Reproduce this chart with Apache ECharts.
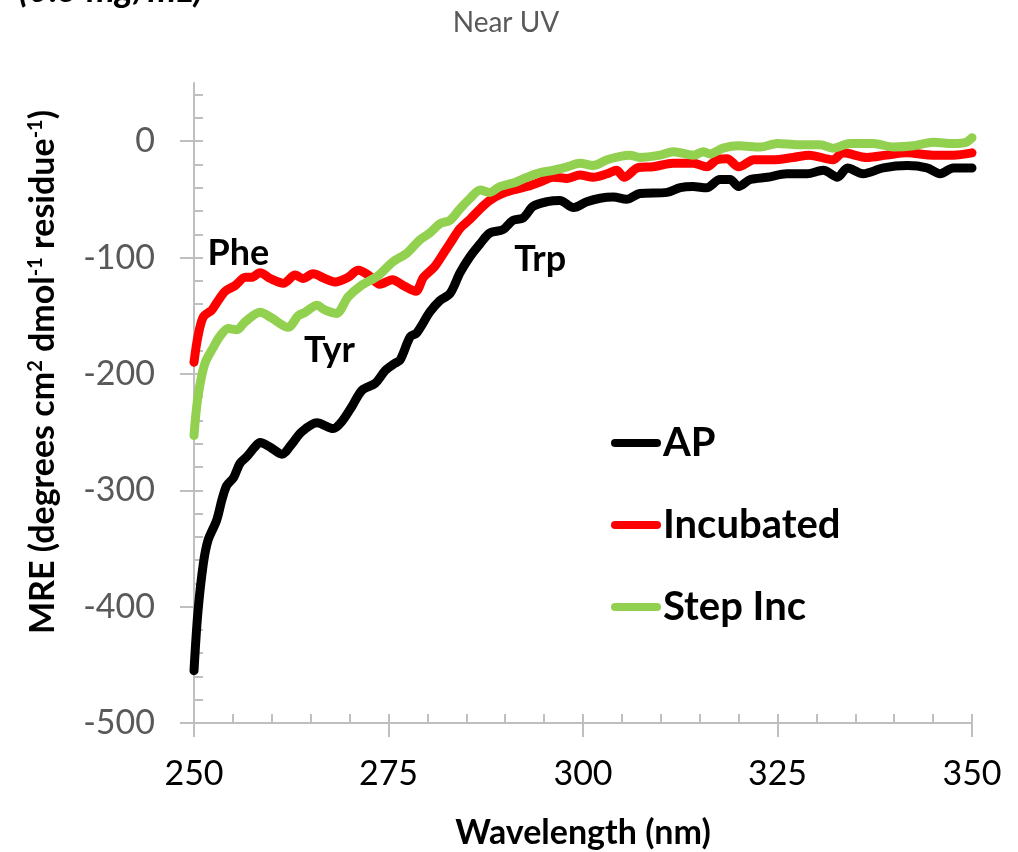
<!DOCTYPE html>
<html>
<head>
<meta charset="utf-8">
<script src="https://cdn.jsdelivr.net/npm/echarts@6/dist/echarts.min.js"></script>
<style>
  html, body { margin: 0; padding: 0; background: #ffffff; }
  #chart { width: 1018px; height: 852px; }
</style>
</head>
<body>
<div id="chart"></div>
<script>
// Near-UV CD spectra: mean residue ellipticity vs wavelength
const seriesNames = ['AP', 'Incubated', 'Step Inc'];
const seriesColors = ['#000000', '#ff0000', '#92d050'];

const apNm = [250.0, 250.5, 251.2, 251.8, 252.9, 253.6, 254.2, 255.1, 255.9, 256.8, 257.8, 258.5, 259.8, 261.3, 262.6, 263.8, 265.8, 267.9, 269.0, 270.3, 271.6, 273.3, 274.6, 275.8, 276.5, 277.8, 278.6, 280.3, 281.6, 282.9, 284.2, 285.5, 286.8, 288.0, 289.7, 291.0, 292.3, 293.6, 295.4, 297.0, 298.8, 300.5, 302.2, 303.9, 305.6, 307.3, 310.8, 312.5, 314.1, 315.9, 317.6, 318.9, 320.0, 321.5, 323.7, 326.2, 328.8, 330.9, 332.7, 334.0, 336.0, 338.6, 341.7, 344.2, 345.9, 347.6, 350.0];
const apMre = [-455, -405, -363, -343, -326, -308, -296, -289, -277, -271, -263, -259, -263, -269, -260, -250, -242, -247, -241, -228, -214, -208, -197, -191, -188, -168, -165, -147, -137, -131, -113, -99, -88, -79, -76, -68, -66, -56, -52, -51, -57, -52, -49, -48, -50, -45, -44, -40, -39, -40, -33, -33, -39, -33, -31, -28, -28, -25, -31, -23, -28, -23, -21, -23, -28, -23, -23];

const incNm = [250.0, 250.5, 251.2, 252.3, 253.1, 254.0, 255.3, 256.6, 257.4, 258.5, 259.8, 261.5, 263.0, 264.0, 265.3, 266.8, 268.1, 269.8, 271.1, 272.4, 273.9, 275.5, 276.9, 278.5, 279.5, 280.9, 282.2, 282.9, 284.2, 285.5, 286.8, 288.0, 289.3, 291.0, 292.8, 294.5, 296.2, 298.0, 299.6, 301.3, 303.1, 304.3, 305.3, 307.0, 309.0, 311.6, 314.2, 315.9, 317.2, 318.5, 320.0, 322.0, 324.4, 327.0, 329.1, 332.1, 333.4, 336.5, 339.0, 341.6, 345.0, 347.6, 350.0];
const incMre = [-190, -168, -151, -145, -137, -129, -124, -117, -117, -113, -118, -122, -115, -118, -114, -118, -121, -117, -111, -115, -123, -119, -124, -129, -117, -108, -95, -88, -75, -67, -58, -51, -46, -42, -39, -35, -31, -32, -29, -31, -28, -25, -31, -23, -22, -19, -19, -22, -16, -15, -22, -16, -16, -14, -12, -16, -10, -14, -12, -10, -12, -12, -10];

const stepNm = [250.0, 250.5, 251.4, 252.5, 253.3, 254.4, 255.5, 256.6, 258.5, 260.0, 262.1, 263.4, 264.3, 265.8, 266.8, 268.3, 269.8, 271.5, 273.6, 275.5, 277.4, 279.0, 280.3, 281.6, 282.9, 284.2, 285.5, 286.8, 288.0, 289.3, 291.0, 292.8, 294.5, 296.2, 298.0, 299.6, 301.3, 303.1, 304.8, 306.0, 307.3, 309.9, 311.6, 314.2, 315.5, 316.3, 318.0, 320.0, 322.8, 325.0, 327.5, 330.5, 332.1, 334.3, 337.3, 339.9, 342.5, 345.0, 347.6, 349.2, 350.0];
const stepMre = [-253, -220, -191, -177, -168, -161, -162, -155, -147, -152, -160, -150, -147, -141, -145, -148, -134, -124, -116, -104, -96, -85, -79, -71, -68, -58, -49, -42, -44, -39, -36, -31, -27, -25, -22, -19, -21, -16, -13, -12, -14, -12, -9, -12, -9, -11, -6, -4, -5, -2, -3, -3, -6, -2, -2, -5, -4, -1, -2, -1, 3];

// Aromatic residue band labels (wavelength, MRE)
const bandNames = ['Phe', 'Tyr', 'Trp'];
const bandNm = [255.7, 267.4, 294.5];
const bandMre = [-96, -180, -102];

// Axis ticks
const xMajorTicks = [250, 275, 300, 325, 350];
const xMinorTicks = [255, 260, 265, 270, 280, 285, 290, 295, 305, 310, 315, 320, 330, 335, 340, 345];
const yMajorTicks = [-500, -400, -300, -200, -100, 0];
const yMinorTicks = [-480, -460, -440, -420, -400, -380, -360, -340, -320, -300, -280, -260, -240, -220, -200, -180, -160, -140, -120, -100, -80, -60, -40, -20, 0, 20, 40];

const pair = (xs, ys) => xs.map((x, i) => [x, ys[i]]);
const curves = [pair(apNm, apMre), pair(incNm, incMre), pair(stepNm, stepMre)];

const FONT = 'Lato';
const AXIS_GREY = '#bfbfbf';
const TEXT_GREY = '#595959';

const chart = echarts.init(document.getElementById('chart'), null, { renderer: 'canvas' });

const lineSeries = seriesNames.map((name, i) => ({
  name: name,
  type: 'line',
  xAxisIndex: 0,
  yAxisIndex: 0,
  data: curves[i],
  showSymbol: false,
  smooth: 0.3,
  lineStyle: { color: seriesColors[i], width: 9, cap: 'round', join: 'round' },
  itemStyle: { color: seriesColors[i] },
  emphasis: { disabled: true },
  z: 3 + i
}));

const legendIcon = 'path://M4,0 L46,0 A4,4 0 0 1 46,8 L4,8 A4,4 0 0 1 4,0 Z';

chart.setOption({
  animation: false,
  backgroundColor: '#ffffff',
  title: {
    text: 'Near UV',
    left: 501,
    top: 4,
    textAlign: 'center',
    textStyle: { fontFamily: FONT, fontSize: 28, fontWeight: 'normal', color: TEXT_GREY }
  },
  grid: { left: 194, right: 46, top: 83, bottom: 129, outerBoundsMode: 'none' },
  legend: {
    data: seriesNames.map((n) => ({ name: n, icon: legendIcon })),
    orient: 'vertical',
    left: 606,
    top: 418,
    itemWidth: 50,
    itemHeight: 8,
    itemGap: 42,
    textStyle: { fontFamily: FONT, fontSize: 40, fontWeight: 'bold', color: '#000000', lineHeight: 40, padding: [0, 0, 0, -3] },
    selectedMode: false
  },
  xAxis: [
    {
      type: 'value',
      min: 250, max: 350, interval: 25,
      position: 'bottom',
      axisLine: { show: true, onZero: false, lineStyle: { color: AXIS_GREY, width: 2 } },
      axisTick: { show: true, inside: false, length: 14, customValues: xMajorTicks, lineStyle: { color: AXIS_GREY, width: 2 } },
      axisLabel: { show: true, margin: 34, fontFamily: FONT, fontSize: 34, color: '#000000' },
      splitLine: { show: false },
      name: 'Wavelength (nm)',
      nameLocation: 'middle',
      nameGap: 93,
      nameTextStyle: { fontFamily: FONT, fontSize: 34, fontWeight: 'bold', color: '#000000' }
    },
    {
      type: 'value',
      min: 250, max: 350, interval: 5,
      position: 'bottom',
      axisLine: { show: false, onZero: false },
      axisTick: { show: true, inside: true, length: 9, customValues: xMinorTicks.concat(xMajorTicks), lineStyle: { color: AXIS_GREY, width: 2 } },
      axisLabel: { show: false },
      splitLine: { show: false }
    }
  ],
  yAxis: [
    {
      type: 'value',
      min: -500, max: 50, interval: 100,
      position: 'left',
      axisLine: { show: true, onZero: false, lineStyle: { color: AXIS_GREY, width: 2 } },
      axisTick: { show: true, inside: false, length: 14, customValues: yMajorTicks, lineStyle: { color: AXIS_GREY, width: 2 } },
      axisLabel: { show: true, margin: 39, customValues: yMajorTicks, fontFamily: FONT, fontSize: 34, color: TEXT_GREY },
      splitLine: { show: false }
    },
    {
      type: 'value',
      min: -500, max: 50, interval: 20,
      position: 'left',
      axisLine: { show: false, onZero: false },
      axisTick: { show: true, inside: true, length: 9, customValues: yMinorTicks, lineStyle: { color: AXIS_GREY, width: 2 } },
      axisLabel: { show: false },
      splitLine: { show: false }
    }
  ],
  graphic: [
    {
      type: 'text',
      x: 43,
      y: 372,
      rotation: Math.PI / 2,
      style: {
        text: 'MRE (degrees cm{sup|2} dmol{sup|-1} residue{sup|-1})',
        fontFamily: FONT,
        fontSize: 34,
        fontWeight: 'bold',
        fill: '#000000',
        align: 'center',
        verticalAlign: 'middle',
        rich: {
          sup: { fontFamily: FONT, fontSize: 20, fontWeight: 'bold', fill: '#000000', verticalAlign: 'top', padding: [0, 0, 14, 0] }
        }
      }
    },
    {
      type: 'text',
      x: 203,
      y: 8,
      style: {
        text: '(0.5 mg/mL)',
        fontFamily: FONT,
        fontSize: 36,
        fontWeight: 'bold',
        fontStyle: 'italic',
        fill: '#000000',
        align: 'right',
        verticalAlign: 'bottom'
      }
    }
  ],
  series: lineSeries.concat([{
    name: 'bands',
    type: 'scatter',
    xAxisIndex: 0,
    yAxisIndex: 0,
    data: bandNames.map((n, i) => [bandNm[i], bandMre[i], n]),
    symbolSize: 0,
    itemStyle: { color: '#000000' },
    silent: true,
    z: 10,
    label: {
      show: true,
      position: [0, 0],
      align: 'center',
      verticalAlign: 'middle',
      formatter: (p) => p.value[2],
      fontFamily: FONT,
      fontSize: 36,
      fontWeight: 'bold',
      color: '#000000',
      opacity: 1
    }
  }])
});
</script>
</body>
</html>
